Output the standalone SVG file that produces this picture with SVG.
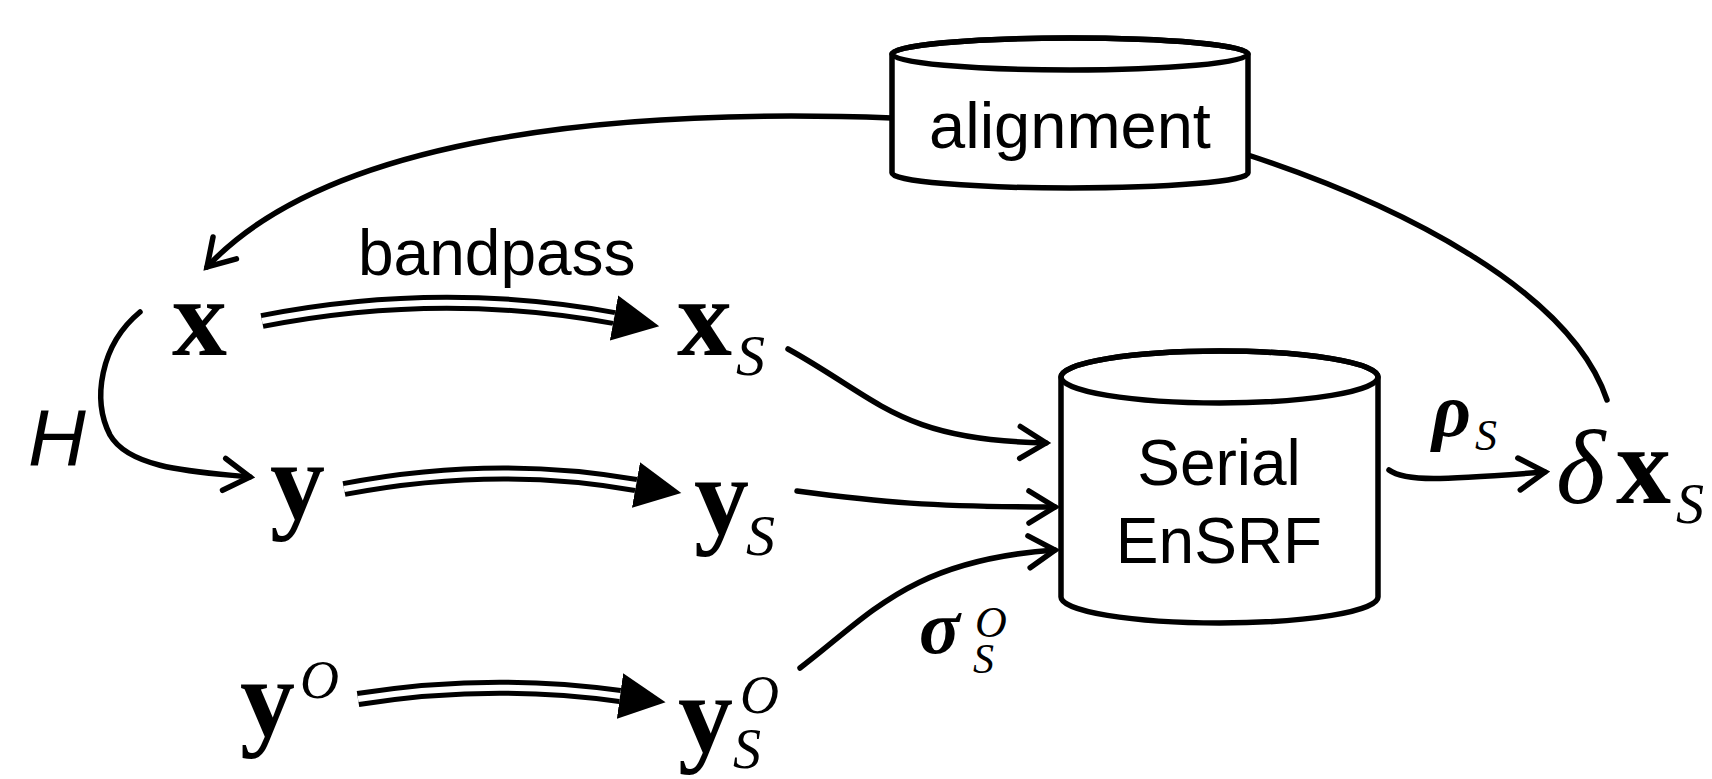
<svg xmlns="http://www.w3.org/2000/svg" width="1712" height="779" viewBox="0 0 1712 779">
<style>
.ln{fill:none;stroke:#000;stroke-width:5.5;stroke-linecap:round}
.dbl{fill:none;stroke:#000;stroke-width:16}
.dblw{fill:none;stroke:#fff;stroke-width:6}
.cyl{fill:#fff;stroke:#000;stroke-width:5.5;stroke-linejoin:round}
.top{fill:none;stroke:#000;stroke-width:5.5}
.sans{font-family:"Liberation Sans",Arial,sans-serif;font-size:64px;fill:#000}
.mb{font-family:"Liberation Serif","Times New Roman",serif;font-weight:bold;font-size:110px;fill:#000}
.mi{font-family:"Liberation Serif","Times New Roman",serif;font-style:italic;fill:#000}
.mbi{font-family:"Liberation Serif","Times New Roman",serif;font-style:italic;font-weight:bold;fill:#000}
</style>
<defs>
<marker id="tri" markerUnits="userSpaceOnUse" markerWidth="48" markerHeight="48" viewBox="0 0 48 48" refX="0" refY="24" orient="auto"><path d="M0 1 L46 24 L0 47 Z" fill="#000"/></marker>
<marker id="open" markerUnits="userSpaceOnUse" markerWidth="40" markerHeight="40" viewBox="0 0 40 40" refX="31" refY="20" orient="auto"><path d="M5 4 L31 20 L5 36" fill="none" stroke="#000" stroke-width="5.5" stroke-linecap="round" stroke-linejoin="miter"/></marker>
</defs>
<rect width="1712" height="779" fill="#fff"/>

<g id="connectors">
<path class="ln" d="M892 118 C620 108 330 135 207 267" marker-end="url(#open)"/>
<path class="ln" d="M1248 155 C1400 205 1570 290 1607 400"/>
<path class="ln" d="M140 312 C100 345 92 400 110 435 C130 470 200 472 250 477" marker-end="url(#open)"/>
<path class="dbl" d="M262 321 Q440 286 614 318" marker-end="url(#tri)"/>
<path class="dblw" d="M262 321 Q440 286 614 318"/>
<path class="dbl" d="M344 489 Q495 460 636 485" marker-end="url(#tri)"/>
<path class="dblw" d="M344 489 Q495 460 636 485"/>
<path class="dbl" d="M358 699 Q490 678 620 696" marker-end="url(#tri)"/>
<path class="dblw" d="M358 699 Q490 678 620 696"/>
<path class="ln" d="M788 349 C880 400 900 440 1046 443" marker-end="url(#open)"/>
<path class="ln" d="M797 491 C880 502 930 507 1055 507" marker-end="url(#open)"/>
<path class="ln" d="M800 668 C870 615 910 560 1055 550" marker-end="url(#open)"/>
<path class="ln" d="M1389 470 C1405 482 1440 480 1545 472" marker-end="url(#open)"/>
<text class="sans" x="358" y="275">bandpass</text>
<text class="sans" style="font-style:italic;font-size:80px" x="28" y="465">H</text>
<text class="mbi" font-size="76" x="1432" y="436">ρ</text>
<text class="mi" font-size="44" x="1475" y="450">S</text>
<text class="mbi" font-size="76" x="919" y="653">σ</text>
<text class="mi" font-size="44" x="975" y="637">O</text>
<text class="mi" font-size="42" x="973" y="673">S</text>
</g>

<g id="alignment">
<path class="cyl" d="M892 54 V173 A178 15 0 0 0 1248 173 V54 A178 16 0 0 0 892 54 Z"/>
<ellipse class="top" cx="1070" cy="54" rx="178" ry="16"/>
<text class="sans" style="font-size:65px" x="1070" y="148" text-anchor="middle">alignment</text>
</g>

<g id="enSRF">
<path class="cyl" d="M1061 377 V597 A158.5 26 0 0 0 1378 597 V377 A158.5 26 0 0 0 1061 377 Z"/>
<ellipse class="top" cx="1219.5" cy="377" rx="158.5" ry="26"/>
<text class="sans" x="1219" y="485" text-anchor="middle">Serial</text>
<text class="sans" x="1219" y="563" text-anchor="middle">EnSRF</text>
</g>

<g id="node-x"><text class="mb" x="172" y="355">x</text></g>
<g id="node-xs"><text class="mb" x="677" y="355">x</text><text class="mi" font-size="58" x="736" y="375">S</text></g>
<g id="node-y"><text class="mb" x="270" y="519">y</text></g>
<g id="node-ys"><text class="mb" x="694" y="534">y</text><text class="mi" font-size="58" x="746" y="555">S</text></g>
<g id="node-yo"><text class="mb" x="240" y="736">y</text><text class="mi" font-size="54" x="300" y="698">O</text></g>
<g id="node-yso"><text class="mb" x="678" y="752">y</text><text class="mi" font-size="54" x="740" y="713">O</text><text class="mi" font-size="56" x="733" y="768">S</text></g>
<g id="node-dxs"><text class="mi" font-size="106" x="1556" y="503">δ</text><text class="mb" x="1616" y="503">x</text><text class="mi" font-size="56" x="1676" y="523">S</text></g>
</svg>
